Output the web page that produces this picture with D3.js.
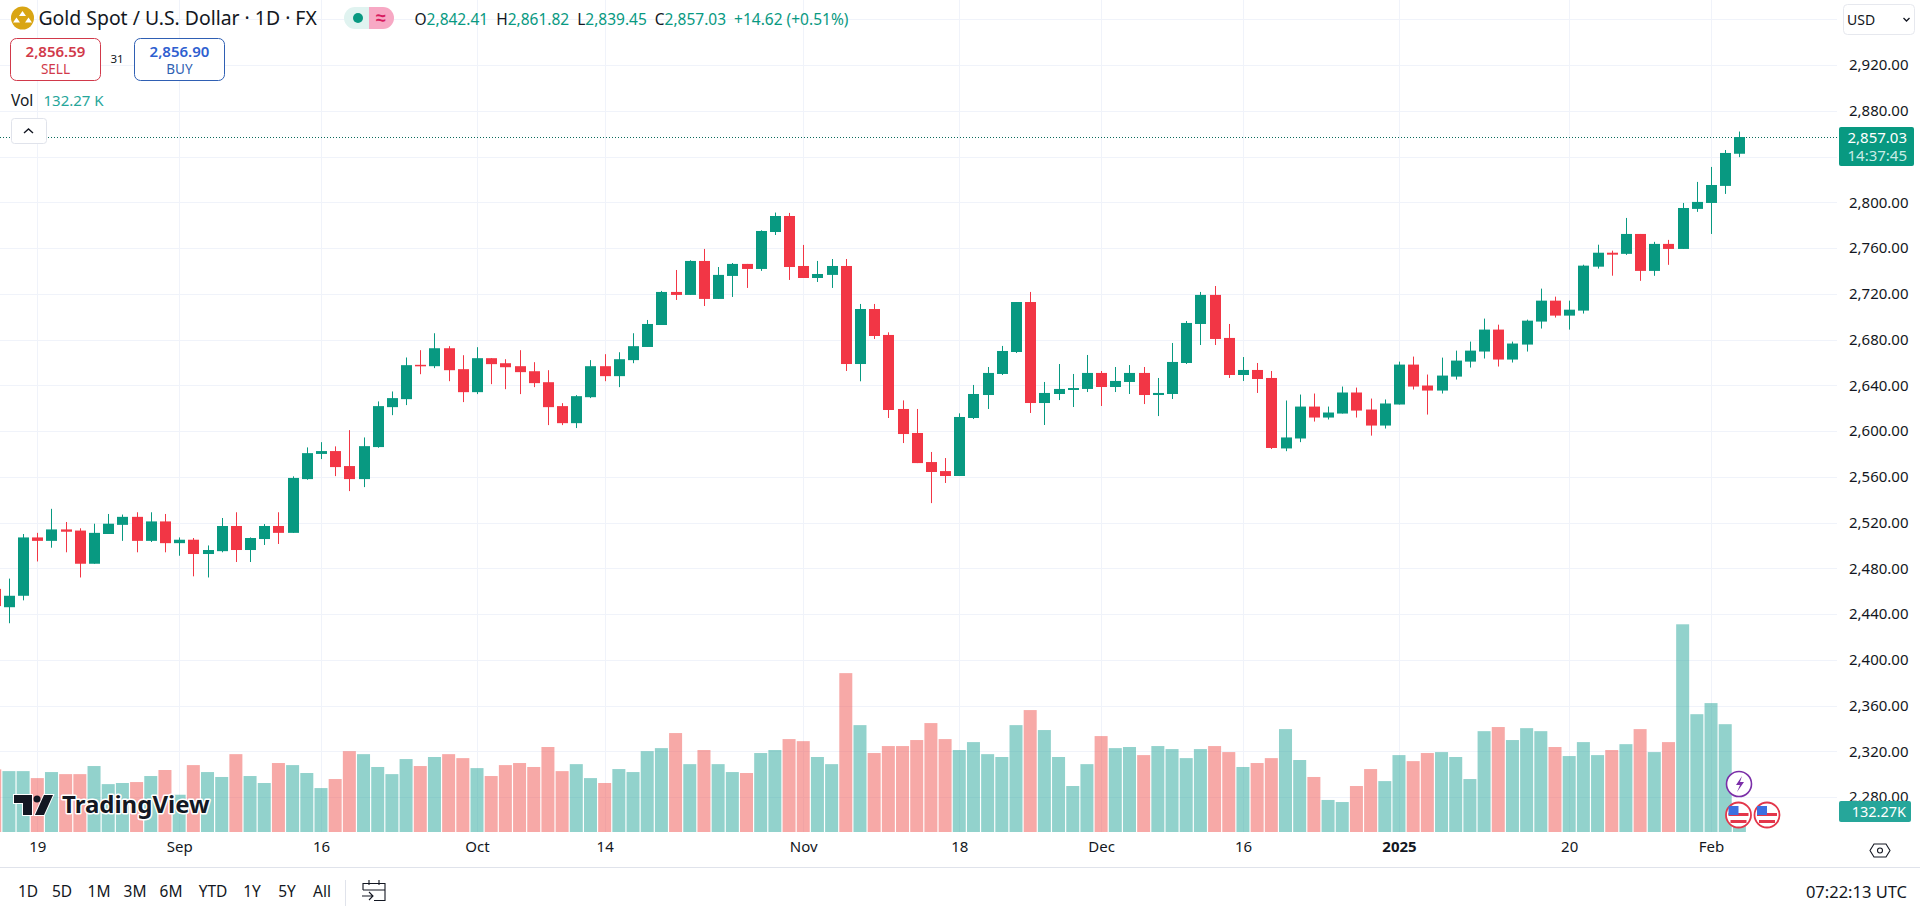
<!DOCTYPE html>
<html>
<head>
<meta charset="utf-8">
<title>Gold Spot / U.S. Dollar</title>
<script src="https://cdn.jsdelivr.net/npm/d3@7"></script>
<style>
  html, body { margin: 0; padding: 0; background: #fff; overflow: hidden; }
  text { font-family: "Noto Sans", sans-serif; }
  .axis path, .axis line { display: none; }
  .axis text { font-size: 15px; fill: #131722; }
</style>
</head>
<body>
<svg id="chart" width="1920" height="913"></svg>
<script>
// bar values, first entry is the bar cut off at the left edge
const opens = [2462,2446,2456,2507,2504,2514,2513,2484,2510,2518,2525,2504,2521,2502,2505,2492.5,2495,2517,2496,2505.6,
  2517,2511,2558,2580,2582.5,2569.4,2558,2586,2620.9,2627.9,2657.9,2656.7,2672.4,2654.1,2634,2663.7,2659.3,2656.7,2652.3,2642.7,
  2621.8,2606.9,2629.6,2656.7,2648,2662,2673.5,2692.7,2721.6,2719,2748.7,2715.5,2735.6,2746.1,2741.7,2774,2788,2744.3,2733.8,2736.5,
  2744.3,2658.6,2706.7,2684,2619.3,2598.3,2572.9,2565,2560.7,2611.4,2631.5,2649.9,2669.1,2712.8,2624.5,2632.4,2635.9,2636.8,2650.8,2638.5,
  2642.9,2650.8,2631.5,2632.4,2659.5,2693.6,2719,2681.4,2649,2653.4,2646.4,2584.8,2593.5,2621.4,2611.8,2615.3,2633.7,2618.8,2604.8,2623.2,
  2658.1,2639.8,2635.4,2647.6,2660.7,2669.5,2688.7,2662.5,2675.6,2695.7,2714,2700.9,2705.3,2743.7,2755.9,2754.9,2772.3,2740,2763.6,2759.2,
  2794.2,2799.4,2814.3,2842.41];
const highs = [2468,2471,2510,2511,2532,2520.5,2515,2519,2527.5,2527,2529,2529,2527.5,2507,2506.5,2500,2524,2529,2507,2518.7,
  2529,2560.4,2585.7,2590.3,2586.6,2600.8,2594.4,2625.9,2634.6,2664.3,2670.7,2685.5,2674.2,2666.3,2673.3,2663.7,2662.8,2670.7,2660.2,2653.2,
  2624.4,2631.4,2662,2667.2,2668.9,2685.5,2697.1,2722.5,2740.8,2749.3,2759.2,2743.4,2746.9,2746.1,2775.5,2791,2790.7,2762.7,2748.7,2750.4,
  2750.4,2711.1,2711.1,2686.3,2626.8,2619.3,2581.7,2576.4,2615.5,2640.3,2656,2674.4,2712.8,2721.6,2642.9,2658.6,2649.9,2666.5,2652.5,2656,
  2657.7,2656,2646.4,2677,2696.2,2721.6,2726.8,2693.6,2664.7,2659.5,2652.5,2626.7,2631.9,2632.8,2621.4,2638.9,2638,2628.4,2627.6,2660.7,
  2665.1,2649.4,2664.2,2670.3,2678.2,2698.3,2693,2678.2,2697.4,2724.5,2717.5,2714,2745.4,2762.9,2757.7,2786.3,2772.3,2765.4,2767.1,2799.4,
  2817.8,2830.9,2845.7,2861.82];
const lows = [2440,2432,2452,2486,2498,2494,2472,2484,2510,2504,2494,2503,2494,2491,2473,2472,2494,2485.5,2485.5,2500.4,
  2501.3,2511,2557.4,2575.5,2560.6,2547.5,2551,2585.4,2613.9,2622.7,2649.7,2655,2643.6,2625.3,2632.3,2641,2636.6,2632.3,2638.4,2605.2,
  2605.2,2602.6,2628.8,2643.6,2638.4,2659.3,2673.5,2692.7,2714.6,2719,2709.3,2715.5,2717.2,2725.1,2740,2771.4,2732.1,2733.8,2730.3,2725.1,
  2652.5,2643.5,2680.5,2611.4,2589.5,2572,2537,2554.6,2560.7,2610.5,2619.3,2649,2668.2,2615.8,2605.3,2627.1,2621,2634.1,2621.9,2634.1,
  2632.4,2623.6,2613.1,2628,2658.6,2675.2,2675.2,2646.4,2643.8,2633.3,2584.3,2582.4,2590.3,2608.3,2610.1,2615.3,2611.8,2596,2602.2,2623.2,
  2636.3,2614.4,2632.8,2645,2655.5,2663.4,2656.4,2659.9,2669.5,2689.6,2699.2,2688.7,2702.7,2742,2735.8,2754,2731.3,2735.7,2745.3,2759.2,
  2791.6,2772.3,2807.3,2839.45];
const closes = [2447,2456,2507,2504,2514,2512,2484,2511,2519,2525,2504,2521,2502,2505,2492.5,2496,2517,2496,2506.5,2517,
  2511,2559,2580.7,2582.5,2568.5,2558,2586.8,2621.8,2628.8,2657.6,2656.7,2672.4,2653.2,2634,2663.7,2658.5,2655.8,2651.5,2641.9,2620.9,
  2606.9,2630.5,2656.7,2648,2662.8,2674.2,2693.6,2721.6,2719,2748.7,2715.5,2736.5,2746.1,2741.7,2774.9,2788,2743.4,2733.8,2737.3,2744.3,
  2658.6,2706.7,2683.1,2618.4,2597.4,2572,2564.2,2560.7,2612.3,2632.4,2650.8,2670,2712.8,2624.5,2633.3,2636.8,2637.6,2650.8,2638.5,2643.8,
  2650.8,2631.5,2633.3,2660.4,2694.5,2719,2680.5,2649,2653.4,2645.5,2585.2,2594.4,2621.4,2611.8,2616.2,2633.7,2617.9,2604.8,2624.1,2658.1,
  2638.9,2635.4,2648.5,2661.6,2670.3,2688.7,2662.5,2676.5,2696.5,2714,2700.9,2706.1,2744.6,2755.9,2754.2,2772.3,2740,2763.6,2759.2,2795,
  2800.3,2815.1,2843.1,2857.03];
// volume in thousands
const volumes = [395,384,384,340,378,365,365,416,302,309,315,353,391,235,422,378,347,491,353,309,
  435,422,372,277,334,510,491,410,365,460,416,473,491,466,403,353,422,435,410,536,
  384,428,340,309,397,378,510,529,624,428,517,428,378,372,498,517,586,573,473,428,
  1002,674,498,542,542,580,687,586,517,567,491,473,674,769,643,473,290,428,605,529,
  536,485,542,523,466,523,542,504,410,435,466,649,454,347,202,189,290,397,321,485,
  447,498,504,473,334,636,662,580,655,636,536,479,567,485,517,554,649,504,567,1310,
  743,813,680,132.27];
const firstBar = -3; // bar number of opens[0], 0 is 19 Aug
const bars = opens.map((o, i) => ({ n: firstBar + i, o, h: highs[i], l: lows[i], c: closes[i], v: volumes[i] }));

const priceTicks = [2960,2920,2880,2840,2800,2760,2720,2680,2640,2600,2560,2520,2480,2440,2400,2360,2320,2280];
// 2,960 and 2,840 sit behind the USD button and the last price label
const priceLabels = priceTicks.filter(d => d !== 2960 && d !== 2840);
const timeTickBars = [0,10,20,31,40,54,65,75,85,96,108,118];
const timeTickLabels = ["19","Sep","16","Oct","14","Nov","18","Dec","16","2025","20","Feb"];
const rangeButtons = ["1D","5D","1M","3M","6M","YTD","1Y","5Y","All"];
const rangeButtonX = [28,62,99,135,171,213,252,287,322];
const legendOHLC = [["O","2,842.41"],["H","2,861.82"],["L","2,839.45"],["C","2,857.03"]];

const green = "#089981", red = "#f23645";
const paneRight = 1837, paneBottom = 832;

const svg = d3.select("#chart");

const x = d3.scaleLinear().domain([0, 120]).range([37.3, 1739.4]);
const y = d3.scaleLinear().domain([2920, 2280]).range([65, 797.1]);
const yVol = d3.scaleLinear().domain([0, 1310]).range([paneBottom, 624.3]);

// Grid
const grid = svg.append("g").attr("stroke", "#f0f3fa").attr("stroke-width", 1);
grid.selectAll(".h").data(priceTicks).enter().append("line")
  .attr("x1", 0).attr("x2", paneRight)
  .attr("y1", d => Math.round(y(d)) + 0.5).attr("y2", d => Math.round(y(d)) + 0.5);
grid.selectAll(".v").data(timeTickBars).enter().append("line")
  .attr("y1", 0).attr("y2", paneBottom)
  .attr("x1", d => Math.round(x(d)) + 0.5).attr("x2", d => Math.round(x(d)) + 0.5);

// Volume
svg.append("g").selectAll("rect").data(bars).enter().append("rect")
  .attr("x", d => x(d.n) - 6.5)
  .attr("width", 13)
  .attr("y", d => yVol(d.v))
  .attr("height", d => paneBottom - yVol(d.v))
  .attr("fill", d => d.c >= d.o ? "#26a69a" : "#ef5350")
  .attr("fill-opacity", 0.5);

// Last price line
svg.append("line")
  .attr("x1", 0).attr("x2", paneRight)
  .attr("y1", Math.floor(y(2857.03)) + 0.5).attr("y2", Math.floor(y(2857.03)) + 0.5)
  .attr("stroke", "#0b6b5c").attr("stroke-dasharray", "1 2");

// Candles
const candle = svg.append("g").selectAll("g").data(bars).enter().append("g")
  .attr("fill", d => d.c >= d.o ? green : red)
  .attr("stroke", d => d.c >= d.o ? green : red);
candle.append("line")
  .attr("x1", d => Math.round(x(d.n)) + 0.5).attr("x2", d => Math.round(x(d.n)) + 0.5)
  .attr("y1", d => y(d.h)).attr("y2", d => y(d.l));
candle.append("rect")
  .attr("stroke", "none")
  .attr("x", d => Math.round(x(d.n)) - 5)
  .attr("width", 11)
  .attr("y", d => y(Math.max(d.o, d.c)))
  .attr("height", d => Math.max(1.5, Math.abs(y(d.o) - y(d.c))));

// Axes
svg.append("g").attr("class", "axis")
  .attr("transform", "translate(1849,0)")
  .call(d3.axisRight(y).tickValues(priceLabels).tickSize(0).tickPadding(0).tickFormat(d3.format(",.2f")));

svg.append("g").attr("class", "axis")
  .attr("transform", "translate(0,841)")
  .call(d3.axisBottom(x).tickValues(timeTickBars).tickSize(0).tickPadding(0)
    .tickFormat((d, i) => timeTickLabels[i]))
  .selectAll("text").style("font-weight", d => d === 96 ? 700 : 400);

// TradingView watermark
const wm = svg.append("g");
wm.append("text").attr("x", 62).attr("y", 813).text("TradingView")
  .style("font-size", "24px").style("font-weight", 700).attr("fill", "#131722")
  .attr("stroke", "#fff").attr("stroke-width", 3).attr("paint-order", "stroke").attr("stroke-linejoin", "round");
wm.append("path").attr("d", "M14 795h18v20h-9v-12h-9z M44 795h9l-9 20h-9z")
  .attr("fill", "#131722").attr("stroke", "#fff").attr("stroke-width", 2).attr("paint-order", "stroke");
wm.append("circle").attr("cx", 37).attr("cy", 799).attr("r", 3.5).attr("fill", "#131722");

// Event markers
svg.append("circle").attr("cx", 1739).attr("cy", 784).attr("r", 12.5)
  .attr("fill", "#fff").attr("stroke", "#7b2fa8").attr("stroke-width", 1.6);
svg.append("path").attr("d", "M1742 776l-6 9h4l-3 7 7-10h-4z").attr("fill", "#7b2fa8");
[1738.5, 1767].forEach(cx => {
  const f = svg.append("g");
  f.append("circle").attr("cx", cx).attr("cy", 815).attr("r", 12.5)
    .attr("fill", "#fff").attr("stroke", "#e3364a").attr("stroke-width", 1.8);
  f.append("rect").attr("x", cx - 10).attr("y", 813).attr("width", 20).attr("height", 3).attr("fill", "#e3364a");
  f.append("rect").attr("x", cx - 8).attr("y", 820).attr("width", 16).attr("height", 3).attr("fill", "#e3364a");
  f.append("rect").attr("x", cx - 10).attr("y", 806).attr("width", 10).attr("height", 9).attr("fill", "#3d6fe0");
});

// Axis panel labels
svg.append("rect").attr("x", 1839).attr("y", 127).attr("width", 75).attr("height", 39).attr("rx", 2).attr("fill", green);
svg.append("text").attr("x", 1907).attr("y", 142.5).attr("text-anchor", "end").attr("fill", "#fff")
  .style("font-size", "15px").text("2,857.03");
svg.append("text").attr("x", 1907).attr("y", 160.5).attr("text-anchor", "end").attr("fill", "#c9ece6")
  .style("font-size", "15px").text("14:37:45");
svg.append("rect").attr("x", 1839).attr("y", 801).attr("width", 72).attr("height", 21).attr("rx", 2).attr("fill", "#26a69a");
svg.append("text").attr("x", 1906).attr("y", 817).attr("text-anchor", "end").attr("fill", "#fff")
  .style("font-size", "14.5px").text("132.27K");

svg.append("rect").attr("x", 1843.5).attr("y", 4.5).attr("width", 71).attr("height", 30).attr("rx", 4)
  .attr("fill", "#fff").attr("stroke", "#e6e8ee");
svg.append("text").attr("x", 1847).attr("y", 24.5).attr("fill", "#131722").style("font-size", "14px").text("USD");
svg.append("path").attr("d", "M1903.5 18l3 3 3-3").attr("fill", "none").attr("stroke", "#131722").attr("stroke-width", 1.3);

// Settings icon
svg.append("path").attr("d", "M1874 844h12l4 6.5-4 6.5h-12l-4-6.5z").attr("fill", "none").attr("stroke", "#131722").attr("stroke-width", 1.1);
svg.append("circle").attr("cx", 1880).attr("cy", 850.5).attr("r", 2.5).attr("fill", "none").attr("stroke", "#131722").attr("stroke-width", 1.1);

// Header
svg.append("circle").attr("cx", 22.5).attr("cy", 18).attr("r", 11.5).attr("fill", "#d9a514");
svg.append("path").attr("d", "M22.5 11l3.5 5h-7z M16.5 17.5l3.5 5h-7z M28.5 17.5l3.5 5h-7z").attr("fill", "#fff");
svg.append("text").attr("x", 38.5).attr("y", 25).attr("fill", "#131722").style("font-size", "19.4px").text("Gold Spot / U.S. Dollar · 1D · FX");

// status pills
svg.append("path").attr("d", "M369 7h-14a11 11 0 0 0 0 22h14z").attr("fill", "#e0f3f0");
svg.append("path").attr("d", "M369 7h14a11 11 0 0 1 0 22h-14z").attr("fill", "#f7a8c4");
svg.append("circle").attr("cx", 358).attr("cy", 18).attr("r", 5).attr("fill", green);
svg.append("text").attr("x", 381).attr("y", 24).attr("text-anchor", "middle").attr("fill", "#d81b60")
  .style("font-size", "18px").style("font-weight", 700).text("≈");

// OHLC legend
const legend = svg.append("text").attr("x", 414.5).attr("y", 24.5).style("font-size", "15.5px");
legendOHLC.forEach(([k, v], i) => {
  legend.append("tspan").attr("dx", i ? 8 : 0).attr("fill", "#131722").text(k);
  legend.append("tspan").attr("fill", green).text(v);
});
legend.append("tspan").attr("dx", 8).attr("fill", green).text("+14.62 (+0.51%)");

// sell / buy
svg.append("rect").attr("x", 10.5).attr("y", 38.5).attr("width", 90).attr("height", 42).attr("rx", 6)
  .attr("fill", "#fff").attr("stroke", "#d1394a");
svg.append("text").attr("x", 55.5).attr("y", 57).attr("text-anchor", "middle").attr("fill", "#d1394a")
  .style("font-size", "15px").style("font-weight", 600).text("2,856.59");
svg.append("text").attr("x", 55.5).attr("y", 74).attr("text-anchor", "middle").attr("fill", "#d1394a")
  .style("font-size", "13.5px").text("SELL");
svg.append("text").attr("x", 117).attr("y", 63).attr("text-anchor", "middle").attr("fill", "#131722")
  .style("font-size", "11.5px").text("31");
svg.append("rect").attr("x", 134.5).attr("y", 38.5).attr("width", 90).attr("height", 42).attr("rx", 6)
  .attr("fill", "#fff").attr("stroke", "#2f5fb3");
svg.append("text").attr("x", 179.5).attr("y", 57).attr("text-anchor", "middle").attr("fill", "#2f5fd0")
  .style("font-size", "15px").style("font-weight", 600).text("2,856.90");
svg.append("text").attr("x", 179.5).attr("y", 74).attr("text-anchor", "middle").attr("fill", "#2f5fb3")
  .style("font-size", "13.5px").text("BUY");

// volume legend
svg.append("text").attr("x", 11).attr("y", 106).attr("fill", "#131722").style("font-size", "15.5px").text("Vol");
svg.append("text").attr("x", 43.5).attr("y", 106).attr("fill", "#26a69a").style("font-size", "15px").text("132.27 K");

// collapse button
svg.append("rect").attr("x", 11.5).attr("y", 118.5).attr("width", 35).attr("height", 25).attr("rx", 3)
  .attr("fill", "#fff").attr("stroke", "#e0e3eb");
svg.append("path").attr("d", "M24 133l4.5-4 4.5 4").attr("fill", "none").attr("stroke", "#131722").attr("stroke-width", 1.4);

// Bottom toolbar
svg.append("line").attr("x1", 0).attr("x2", 1920).attr("y1", 867.5).attr("y2", 867.5).attr("stroke", "#e0e3eb");
svg.append("g").selectAll("text").data(rangeButtons).enter().append("text")
  .attr("x", (d, i) => rangeButtonX[i]).attr("y", 897)
  .attr("text-anchor", "middle").attr("fill", "#131722").style("font-size", "15.5px")
  .text(d => d);
svg.append("line").attr("x1", 345.5).attr("x2", 345.5).attr("y1", 880).attr("y2", 906).attr("stroke", "#e0e3eb");
svg.append("path")
  .attr("d", "M363 890v-6.5h22v17h-11 M363 890h22 M369 880v5 M379 880v5 M362 896h11 M369 892l4 4-4 4")
  .attr("fill", "none").attr("stroke", "#131722").attr("stroke-width", 1.1);
svg.append("text").attr("x", 1907).attr("y", 897.5).attr("text-anchor", "end").attr("fill", "#131722")
  .style("font-size", "16.5px").text("07:22:13 UTC");
</script>
</body>
</html>
